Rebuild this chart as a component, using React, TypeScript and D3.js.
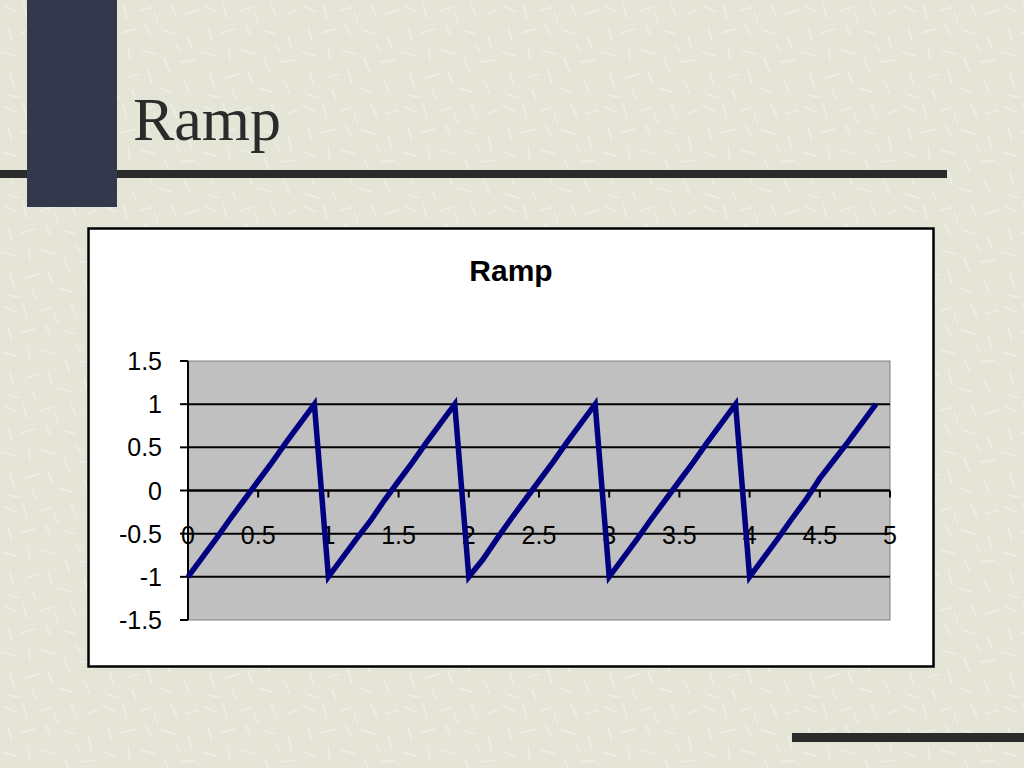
import React from "react";
import * as d3 from "d3";

const slideTitle = "Ramp";
const chartTitle = "Ramp";

const xValues = [
  0, 0.1, 0.2, 0.3, 0.4, 0.5, 0.6, 0.7, 0.8, 0.9,
  1, 1.1, 1.2, 1.3, 1.4, 1.5, 1.6, 1.7, 1.8, 1.9,
  2, 2.1, 2.2, 2.3, 2.4, 2.5, 2.6, 2.7, 2.8, 2.9,
  3, 3.1, 3.2, 3.3, 3.4, 3.5, 3.6, 3.7, 3.8, 3.9,
  4, 4.1, 4.2, 4.3, 4.4, 4.5, 4.6, 4.7, 4.8, 4.9,
];
const yValues = [
  -1, -0.78, -0.56, -0.33, -0.11, 0.11, 0.33, 0.56, 0.78, 1,
  -1, -0.78, -0.56, -0.35, -0.11, 0.11, 0.33, 0.56, 0.78, 1,
  -1, -0.8, -0.56, -0.33, -0.11, 0.11, 0.33, 0.56, 0.78, 1,
  -1, -0.78, -0.56, -0.33, -0.11, 0.11, 0.33, 0.56, 0.78, 1,
  -1, -0.78, -0.56, -0.33, -0.11, 0.14, 0.35, 0.56, 0.78, 1,
];

const yTicks = [1.5, 1, 0.5, 0, -0.5, -1, -1.5];
const yGrid = [1, 0.5, 0, -0.5, -1];
const xTicks = [0, 0.5, 1, 1.5, 2, 2.5, 3, 3.5, 4, 4.5, 5];

// decorative texture strokes for the slide background pattern
const scratches = [
  [4, 6, 16, 12], [23, 3, 27, 19], [39, 11, 53, 7], [71, 4, 77, 18],
  [86, 14, 98, 10], [8, 27, 12, 41], [21, 33, 35, 29], [45, 23, 51, 37],
  [62, 30, 76, 34], [88, 36, 92, 50], [2, 52, 16, 56], [28, 46, 30, 60],
  [41, 50, 57, 54], [64, 58, 70, 72], [80, 62, 96, 60], [10, 72, 14, 86],
  [26, 78, 40, 74], [48, 70, 52, 84], [58, 88, 72, 92], [84, 80, 90, 94],
  [6, 94, 20, 98], [32, 90, 36, 99], [76, 44, 80, 52], [54, 12, 58, 24],
];

export default function App() {
  const x = d3.scaleLinear().domain([0, 5]).range([188, 890]);
  const y = d3.scaleLinear().domain([-1.5, 1.5]).range([620, 361]);
  const line = d3
    .line<number>()
    .x((_, i) => x(xValues[i]))
    .y((d) => y(d));
  const path = line(yValues) || "";
  const fmt = (v: number) => String(v);

  return (
    <svg
      width={1024}
      height={768}
      style={{ position: "absolute", left: 0, top: 0, display: "block" }}
    >
      <defs>
        <pattern id="tex" width={100} height={100} patternUnits="userSpaceOnUse">
          <rect width={100} height={100} fill="#e5e5d7" />
          {scratches.map((s, i) => (
            <line
              key={i}
              x1={s[0]}
              y1={s[1]}
              x2={s[2]}
              y2={s[3]}
              stroke="#eeeee4"
              strokeWidth={1.5}
            />
          ))}
        </pattern>
      </defs>
      <rect width={1024} height={768} fill="url(#tex)" />
      {/* dark vertical block */}
      <rect x={27} y={0} width={90} height={207} fill="#34384c" />
      {/* horizontal rule */}
      <rect x={0} y={170} width={27} height={8} fill="#2b2b2b" />
      <rect x={117} y={170} width={830} height={8} fill="#2b2b2b" />
      {/* bottom right rule */}
      <rect x={792} y={733} width={232} height={9} fill="#2b2b2b" />
      <text
        x={133}
        y={140}
        fontFamily="'Liberation Serif', 'Times New Roman', serif"
        fontSize={62}
        fill="#2b2b2b"
      >
        {slideTitle}
      </text>

      {/* chart box */}
      <rect x={88.5} y={228.5} width={845} height={438} fill="#ffffff" stroke="#000" strokeWidth={2.5} />
      <text
        x={511}
        y={281}
        textAnchor="middle"
        fontFamily="'Liberation Sans', Arial, sans-serif"
        fontWeight="bold"
        fontSize={30}
        fill="#000"
      >
        {chartTitle}
      </text>

      {/* plot area */}
      <rect x={188} y={361} width={702} height={259} fill="#c0c0c0" stroke="#808080" strokeWidth={1} />
      {yGrid.map((v) => (
        <line key={v} x1={188} x2={890} y1={y(v)} y2={y(v)} stroke="#000" strokeWidth={2} />
      ))}
      {/* y axis */}
      <line x1={188} x2={188} y1={361} y2={620} stroke="#000" strokeWidth={2} />
      {yTicks.map((v) => (
        <g key={v}>
          <line x1={180} x2={188} y1={y(v)} y2={y(v)} stroke="#000" strokeWidth={2} />
          <text
            x={162}
            y={y(v)}
            dy="0.36em"
            textAnchor="end"
            fontFamily="'Liberation Sans', Arial, sans-serif"
            fontSize={25}
            fill="#000"
          >
            {fmt(v)}
          </text>
        </g>
      ))}
      {/* x axis at y = 0 */}
      <line x1={188} x2={890} y1={y(0)} y2={y(0)} stroke="#000" strokeWidth={2} />
      {xTicks.map((v) => (
        <g key={v}>
          <line x1={x(v)} x2={x(v)} y1={y(0)} y2={y(0) + 7} stroke="#000" strokeWidth={2} />
          <text
            x={x(v)}
            y={y(0) + 53}
            textAnchor="middle"
            fontFamily="'Liberation Sans', Arial, sans-serif"
            fontSize={25}
            fill="#000"
          >
            {fmt(v)}
          </text>
        </g>
      ))}

      <path d={path} fill="none" stroke="#000080" strokeWidth={5.5} strokeLinejoin="miter" strokeMiterlimit={10} />
    </svg>
  );
}
